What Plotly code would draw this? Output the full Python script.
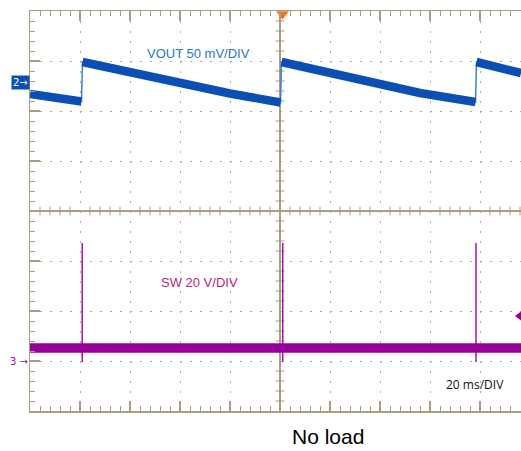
import plotly.graph_objects as go

# Time base 20 ms/div, screen centre at t = 0 ms
t_min, t_max = -100.0, 96.4          # visible part of the screen (ms)

# Channel 2 : VOUT (mV, relative to channel marker), 50 mV/div
vout_t = [-100, -90, -79.4, -79.0, -60, -40, -20, 0.2, 0.6, 20, 32, 56, 78.2, 78.6, 96.4]
vout_mv = [-11, -14.5, -18.5, 21, 11, -1, -10.5, -19.5, 21, 10, 2, -10, -19, 21, 10]

# Channel 3 : SW (V), 20 V/div
sw_t = [-100, 96.4]
sw_v = [5.2, 5.2]
spike_t = [-79.1, 1.1, 78.4]
spike_hi = [47.2, 47.2, 47.2]
spike_lo = [-0.4, -0.4, -0.4]

trig_level_v = 18.0   # trigger level marker on SW channel
trig_pos_t = 1.0      # trigger position marker

# ---------------- styling ----------------
FRAME = "#a79e83"
GRID = "#b0a992"
BLUE = "#0b4fb5"
BLUE_EDGE = "#3b80d6"
PURPLE = "#990099"
SPIKE = "#a812a8"
FONT = "Liberation Sans, Arial, sans-serif"

fig = go.Figure()

# thin VOUT trace (shows the fast vertical edges)
fig.add_trace(go.Scatter(x=vout_t, y=vout_mv, yaxis="y2", mode="lines",
                         line=dict(color=BLUE_EDGE, width=1.5), hoverinfo="skip"))
# thick VOUT band, broken at the upward jumps
bx, by = [], []
for i, (tt, vv) in enumerate(zip(vout_t, vout_mv)):
    if i > 0 and vv - vout_mv[i - 1] > 20:
        bx.append(None)
        by.append(None)
    bx.append(tt)
    by.append(vv)
fig.add_trace(go.Scatter(x=bx, y=by, yaxis="y2", mode="lines",
                         line=dict(color=BLUE, width=8.5), hoverinfo="skip"))

# SW spikes
sx, sy = [], []
for tt, hi, lo in zip(spike_t, spike_hi, spike_lo):
    sx += [tt, tt, None]
    sy += [lo, hi, None]
fig.add_trace(go.Scatter(x=sx, y=sy, yaxis="y3", mode="lines",
                         line=dict(color=SPIKE, width=1.5), hoverinfo="skip"))
# SW band
fig.add_trace(go.Scatter(x=sw_t, y=sw_v, yaxis="y3", mode="lines",
                         line=dict(color=PURPLE, width=9.5), hoverinfo="skip"))

# tick marks on the centre cross-hair
cx, cy = [], []
for k in range(-25, 25):
    t = k * 4.0
    if k % 5 != 0:
        cx += [t, t, None]
        cy += [-0.09, 0.09, None]
for j in range(-20, 21):
    if j % 5 != 0:
        d = j * 0.2
        cx += [-1.8, 1.8, None]
        cy += [d, d, None]
fig.add_trace(go.Scatter(x=cx, y=cy, mode="lines",
                         line=dict(color=FRAME, width=1), hoverinfo="skip"))

# trigger position marker (top) and trigger level marker (right)
fig.add_trace(go.Scatter(x=[trig_pos_t], y=[3.94], mode="markers", cliponaxis=False,
                         marker=dict(symbol="triangle-down", size=11, color="#ff6a13"),
                         hoverinfo="skip"))
fig.add_trace(go.Scatter(x=[95.6], y=[trig_level_v], yaxis="y3", mode="markers",
                         cliponaxis=False,
                         marker=dict(symbol="triangle-left", size=8, color=PURPLE),
                         hoverinfo="skip"))

axis_common = dict(
    showticklabels=False, showline=True, linecolor=FRAME, linewidth=1.5,
    ticks="inside", ticklen=10, tickcolor=FRAME, tickwidth=1.5,
    showgrid=True, gridcolor=GRID, gridwidth=1, griddash="2px,8px",
    zeroline=True, zerolinecolor=FRAME, zerolinewidth=1.5, fixedrange=True,
)

fig.update_layout(
    width=521, height=451,
    margin=dict(l=30, r=0, t=11, b=40),
    paper_bgcolor="white", plot_bgcolor="white",
    showlegend=False,
    xaxis=dict(range=[t_min, t_max], dtick=20, tick0=0, mirror="ticks",
               minor=dict(dtick=4, tick0=0, ticks="inside", ticklen=5,
                          tickcolor=FRAME, tickwidth=1, showgrid=False),
               **axis_common),
    yaxis=dict(range=[-4, 4], dtick=1, tick0=0,
               minor=dict(dtick=0.2, tick0=0, ticks="inside", ticklen=5,
                          tickcolor=FRAME, tickwidth=1, showgrid=False),
               **axis_common),
    yaxis2=dict(range=[-328, 72], overlaying="y", visible=False, fixedrange=True),
    yaxis3=dict(range=[-20, 140], overlaying="y", visible=False, fixedrange=True),
    annotations=[
        dict(text="VOUT 50 mV/DIV", x=-32.8, y=3.16, xref="x", yref="y",
             showarrow=False, font=dict(family=FONT, size=13, color="#1f78c8")),
        dict(text="SW 20 V/DIV", x=-32.2, y=-1.42, xref="x", yref="y",
             showarrow=False, font=dict(family=FONT, size=13, color="#c21c7c")),
        dict(text="20 ms/DIV", x=78, y=-3.46, xref="x", yref="y",
             showarrow=False, font=dict(family="Open Sans, sans-serif", size=12, color="#111111")),
        dict(text="No load", x=0.606, y=-0.0625, xref="paper", yref="paper",
             xanchor="center", yanchor="middle",
             showarrow=False, font=dict(family=FONT, size=21, color="#000000")),
        dict(text="2→", x=0, y=0.5, xref="paper", yref="y2", xanchor="right",
             yanchor="middle", showarrow=False, bgcolor=BLUE, borderpad=1,
             font=dict(family="DejaVu Sans", size=10, color="white")),
        dict(text="3 →", x=0, y=0, xref="paper", yref="y3", xanchor="right",
             yanchor="middle", showarrow=False,
             font=dict(family="DejaVu Sans", size=10, color="#9a109a")),
    ],
)

# remove the default 8 px page margin so the 521x451 figure fills the window
fig.write_html("out.html",
               config={"displayModeBar": False, "staticPlot": True},
               post_script="document.body.style.margin='0';"
                           "document.body.style.overflow='hidden';")
